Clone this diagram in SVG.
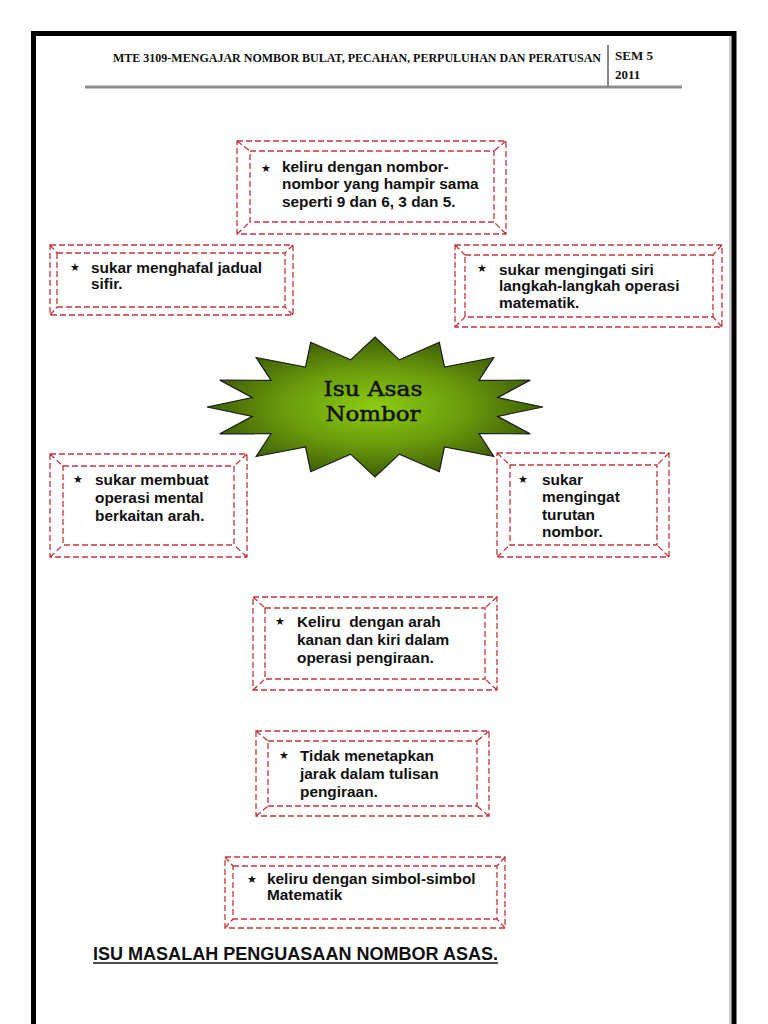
<svg xmlns="http://www.w3.org/2000/svg" width="768" height="1024" viewBox="0 0 768 1024">
<defs>
<radialGradient id="burst" cx="50%" cy="50%" r="50%">
<stop offset="0" stop-color="#8ccc12"/>
<stop offset="0.55" stop-color="#6a9a0c"/>
<stop offset="1" stop-color="#3f5e05"/>
</radialGradient>
</defs>
<style>
.frame{fill:none;stroke:#000;stroke-width:5}
.box{fill:none;stroke:#c2363c;stroke-width:1.3;stroke-dasharray:6 3}
.t{font-family:"Liberation Sans",Arial,sans-serif;font-weight:bold;font-size:14px;fill:#111}
.star{font-family:"DejaVu Sans",sans-serif;font-size:11px;fill:#111;text-anchor:middle}
.hd{font-family:"Liberation Serif","DejaVu Serif",serif;font-weight:bold;font-size:13px;fill:#111}
.burst-t{font-family:"DejaVu Serif","Liberation Serif",serif;font-size:21px;fill:#111;stroke:#111;stroke-width:0.5;text-anchor:middle}
</style>
<rect width="768" height="1024" fill="#fff"/>
<g id="page">
<path class="frame" d="M33.5,1030 V33.5 H734 V1030"/>
<line x1="730" y1="36" x2="730" y2="1030" stroke="#999" stroke-width="1"/>
<text class="hd" x="113" y="62" textLength="488" lengthAdjust="spacingAndGlyphs">MTE 3109-MENGAJAR NOMBOR BULAT, PECAHAN, PERPULUHAN DAN PERATUSAN</text>
<line x1="608" y1="45" x2="608" y2="87" stroke="#888" stroke-width="2"/>
<text class="hd" x="615" y="60" font-size="12">SEM 5</text>
<text class="hd" x="615" y="79" font-size="12">2011</text>
<line x1="85" y1="87" x2="682" y2="87" stroke="#8c8c8c" stroke-width="3"/>
</g>
<g id="connectors"></g>
<g id="center">
<path d="M543,407 L497.6,397.6 L530.2,380.2 L478.9,380.3 L493.8,357.5 L444.5,367.1 L439.3,342.3 L399.4,359.9 L375,337 L350.6,359.9 L310.7,342.3 L305.5,367.1 L256.2,357.5 L271.1,380.3 L219.8,380.2 L252.4,397.6 L207,407 L252.4,416.4 L219.8,433.8 L271.1,433.7 L256.2,456.5 L305.5,446.9 L310.7,471.7 L350.6,454.1 L375,477 L399.4,454.1 L439.3,471.7 L444.5,446.9 L493.8,456.5 L478.9,433.7 L530.2,433.8 L497.6,416.4 Z" fill="url(#burst)" stroke="#1a1a1a" stroke-width="1.2" stroke-linejoin="miter"/>
<text class="burst-t" x="373" y="396" textLength="99" lengthAdjust="spacingAndGlyphs">Isu Asas</text>
<text class="burst-t" x="373" y="421" textLength="95" lengthAdjust="spacingAndGlyphs">Nombor</text>
</g>
<g id="box1">
<path class="box" d="M237,141H506V234H237Z M250,151H494V222H250Z M237,141L250,151 M506,141L494,151 M506,234L494,222 M237,234L250,222"/>
<text class="star" x="266" y="172">★</text>
<text class="t" transform="translate(282,172) scale(1.1,1)"><tspan x="0" y="0">keliru dengan nombor-</tspan><tspan x="0" y="17.5">nombor yang hampir sama</tspan><tspan x="0" y="35">seperti 9 dan 6, 3 dan 5.</tspan></text>
</g>
<g id="box2">
<path class="box" d="M50,245H293V315H50Z M57,253H285V307H57Z M50,245L57,253 M293,245L285,253 M293,315L285,307 M50,315L57,307"/>
<text class="star" x="75" y="271">★</text>
<text class="t" transform="translate(91,273) scale(1.1,1)"><tspan x="0" y="0">sukar menghafal jadual</tspan><tspan x="0" y="16">sifir.</tspan></text>
</g>
<g id="box3">
<path class="box" d="M455,245H722V327H455Z M465,255H713V317H465Z M455,245L465,255 M722,245L713,255 M722,327L713,317 M455,327L465,317"/>
<text class="star" x="482" y="272">★</text>
<text class="t" transform="translate(499,275) scale(1.1,1)"><tspan x="0" y="0">sukar mengingati siri</tspan><tspan x="0" y="16.5">langkah-langkah operasi</tspan><tspan x="0" y="33">matematik.</tspan></text>
</g>
<g id="box4">
<path class="box" d="M50,454H247V557H50Z M63,466H234V545H63Z M50,454L63,466 M247,454L234,466 M247,557L234,545 M50,557L63,545"/>
<text class="star" x="78" y="483">★</text>
<text class="t" transform="translate(95,485) scale(1.1,1)"><tspan x="0" y="0">sukar membuat</tspan><tspan x="0" y="18">operasi mental</tspan><tspan x="0" y="36">berkaitan arah.</tspan></text>
</g>
<g id="box5">
<path class="box" d="M497,453H669V557H497Z M510,465H657V545H510Z M497,453L510,465 M669,453L657,465 M669,557L657,545 M497,557L510,545"/>
<text class="star" x="523" y="483">★</text>
<text class="t" transform="translate(542,485) scale(1.1,1)"><tspan x="0" y="0">sukar</tspan><tspan x="0" y="17.5">mengingat</tspan><tspan x="0" y="35">turutan</tspan><tspan x="0" y="52">nombor.</tspan></text>
</g>
<g id="box6">
<path class="box" d="M253,597H497V690H253Z M265,608H485V679H265Z M253,597L265,608 M497,597L485,608 M497,690L485,679 M253,690L265,679"/>
<text class="star" x="280" y="625">★</text>
<text class="t" transform="translate(297,627) scale(1.1,1)" style="white-space:pre"><tspan x="0" y="0">Keliru  dengan arah</tspan><tspan x="0" y="18">kanan dan kiri dalam</tspan><tspan x="0" y="36">operasi pengiraan.</tspan></text>
</g>
<g id="box7">
<path class="box" d="M256,731H489V816H256Z M268,741H477V806H268Z M256,731L268,741 M489,731L477,741 M489,816L477,806 M256,816L268,806"/>
<text class="star" x="284" y="759">★</text>
<text class="t" transform="translate(300,761) scale(1.1,1)"><tspan x="0" y="0">Tidak menetapkan</tspan><tspan x="0" y="18">jarak dalam tulisan</tspan><tspan x="0" y="36">pengiraan.</tspan></text>
</g>
<g id="box8">
<path class="box" d="M225,857H505V928H225Z M233,866H497V919H233Z M225,857L233,866 M505,857L497,866 M505,928L497,919 M225,928L233,919"/>
<text class="star" x="252" y="883">★</text>
<text class="t" transform="translate(267,884) scale(1.1,1)"><tspan x="0" y="0">keliru dengan simbol-simbol</tspan><tspan x="0" y="16.5">Matematik</tspan></text>
</g>
<g id="title">
<text x="93" y="960" font-family="Liberation Sans, Arial, sans-serif" font-weight="bold" font-size="18" fill="#111" textLength="405" lengthAdjust="spacingAndGlyphs">ISU MASALAH PENGUASAAN NOMBOR ASAS.</text>
<line x1="93" y1="963" x2="498" y2="963" stroke="#111" stroke-width="1.6"/>
</g>
</svg>
